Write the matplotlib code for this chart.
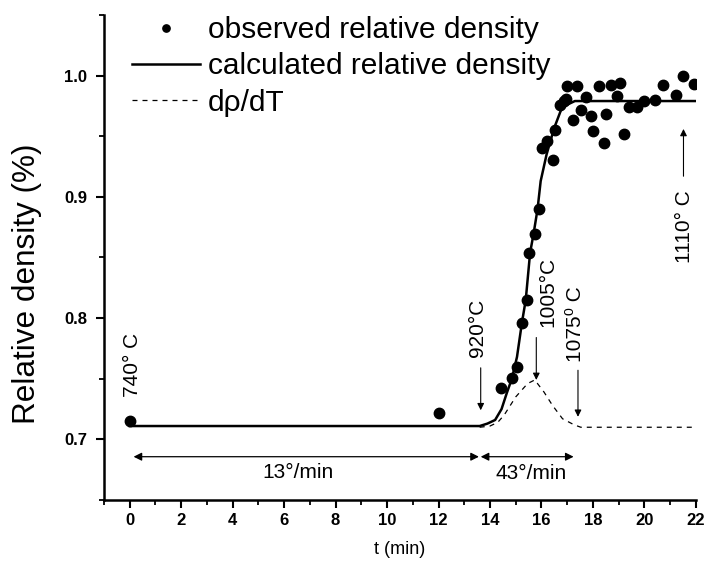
import numpy as np
import matplotlib
matplotlib.use("Agg")
import matplotlib.pyplot as plt
from matplotlib.ticker import MultipleLocator, FormatStrFormatter

plt.rcParams['font.family'] = ['Liberation Sans', 'DejaVu Sans']

# observed relative density
t_obs = [0.0, 12.02, 14.42, 14.85, 15.04, 15.23, 15.43, 15.51, 15.75, 15.91,
         16.01, 16.21, 16.43, 16.52, 16.71, 16.86, 16.95, 17.01, 17.23, 17.40,
         17.53, 17.72, 17.94, 18.02, 18.24, 18.44, 18.50, 18.70, 18.92, 19.06,
         19.19, 19.41, 19.73, 19.99, 20.42, 20.71, 21.22, 21.52, 21.91]
rho_obs = [0.715, 0.722, 0.742, 0.751, 0.760, 0.796, 0.815, 0.854, 0.869, 0.890,
           0.940, 0.946, 0.930, 0.955, 0.976, 0.979, 0.981, 0.991, 0.963, 0.991,
           0.972, 0.982, 0.967, 0.954, 0.991, 0.944, 0.968, 0.992, 0.983, 0.994,
           0.952, 0.974, 0.974, 0.979, 0.980, 0.992, 0.984, 1.000, 0.993]

# calculated relative density
t_calc = [0.0, 13.6, 13.9, 14.2, 14.45, 14.65, 14.85, 15.05, 15.24, 15.39,
          15.56, 15.69, 15.85, 15.97, 16.2, 16.5, 16.75, 17.0, 17.3, 22.0]
rho_calc = [0.711, 0.711, 0.713, 0.716, 0.725, 0.738, 0.750, 0.768, 0.796, 0.815,
            0.854, 0.869, 0.890, 0.913, 0.935, 0.957, 0.971, 0.976, 0.979, 0.979]

# d rho / dT (scaled)
t_der = [13.6, 14.0, 14.3, 14.55, 15.0, 15.46, 15.74, 16.1, 16.43, 16.82,
         17.27, 17.53, 22.0]
rho_der = [0.710, 0.711, 0.714, 0.720, 0.735, 0.746, 0.749, 0.739, 0.728, 0.717,
           0.712, 0.710, 0.710]

fig = plt.figure(figsize=(7.05, 5.66), dpi=100)
ax = fig.add_axes([0.1475, 0.1166, 0.8395, 0.857])

ax.plot(t_der, rho_der, color='black', lw=0.9, ls=(0, (4, 4)), label='d\u03c1/dT')
ax.plot(t_calc, rho_calc, color='black', lw=1.8, label='calculated relative density')
ax.plot(t_obs, rho_obs, 'o', color='black', ms=7.5, label='observed relative density')

ax.set_xlim(-1, 22)
ax.set_ylim(0.65, 1.05)
ax.xaxis.set_minor_locator(MultipleLocator(1))
ax.yaxis.set_minor_locator(MultipleLocator(0.05))
ax.set_xticks(np.arange(0, 23, 2))
ax.set_yticks([0.7, 0.8, 0.9, 1.0])
ax.yaxis.set_major_formatter(FormatStrFormatter('%.1f'))

for side in ['top', 'right']:
    ax.spines[side].set_visible(False)
for side in ['left', 'bottom']:
    ax.spines[side].set_linewidth(1.8)
ax.tick_params(which='major', direction='out', length=6, width=1.5, labelsize=12)
ax.tick_params(axis='y', which='major', pad=6)
ax.tick_params(which='minor', direction='out', length=3.5, width=1.3)
for lab in ax.get_xticklabels() + ax.get_yticklabels():
    lab.set_fontweight('bold')

ax.set_xlabel('t (min)', fontsize=13)
ax.xaxis.set_label_coords(0.5, -0.085)
ax.set_ylabel('Relative density (%)', fontsize=22.7)
ax.yaxis.set_label_coords(-0.105, 0.445)

# temperature labels and arrows
arrow = dict(arrowstyle='-|>', color='black', lw=0.8, mutation_scale=10,
             shrinkA=0, shrinkB=0)
ax.text(0.12, 0.7348, '740\u00b0 C', rotation=90, ha='center', va='bottom', fontsize=15)
ax.text(13.5, 0.7678, '920\u00b0C', rotation=90, ha='center', va='bottom', fontsize=15)
ax.annotate('', xy=(13.64, 0.724), xytext=(13.64, 0.759), arrowprops=arrow)
ax.text(16.25, 0.7925, '1005\u00b0C', rotation=90, ha='center', va='bottom', fontsize=15)
ax.annotate('', xy=(15.8, 0.749), xytext=(15.8, 0.784), arrowprops=arrow)
ax.text(17.34, 0.7638, '1075\u2070 C', rotation=90, ha='center', va='bottom', fontsize=15)
ax.annotate('', xy=(17.42, 0.7186), xytext=(17.42, 0.757), arrowprops=arrow)
ax.text(21.56, 0.8458, '1110\u00b0 C', rotation=90, ha='center', va='bottom', fontsize=15)
ax.annotate('', xy=(21.52, 0.956), xytext=(21.52, 0.917), arrowprops=arrow)

# heating rate arrows
darrow = dict(arrowstyle='<|-|>', color='black', lw=0.9, mutation_scale=12,
              shrinkA=0, shrinkB=0)
ax.annotate('', xy=(0.15, 0.6857), xytext=(13.57, 0.6857), arrowprops=darrow)
ax.annotate('', xy=(13.64, 0.6857), xytext=(17.25, 0.6857), arrowprops=darrow)
ax.text(6.53, 0.6725, '13\u00b0/min', ha='center', va='center', fontsize=15)
ax.text(15.6, 0.672, '43\u00b0/min', ha='center', va='center', fontsize=15)

handles, labels = ax.get_legend_handles_labels()
order = [2, 1, 0]
leg = ax.legend([handles[i] for i in order], [labels[i] for i in order],
                loc='upper left', bbox_to_anchor=(132 / 705, 1 - 16 / 566),
                bbox_transform=fig.transFigure, frameon=False, fontsize=21.5,
                handlelength=2.27, handletextpad=0.27, labelspacing=0.28,
                borderpad=0, borderaxespad=0, markerscale=0.7)

fig.savefig('out.png', dpi=100)
